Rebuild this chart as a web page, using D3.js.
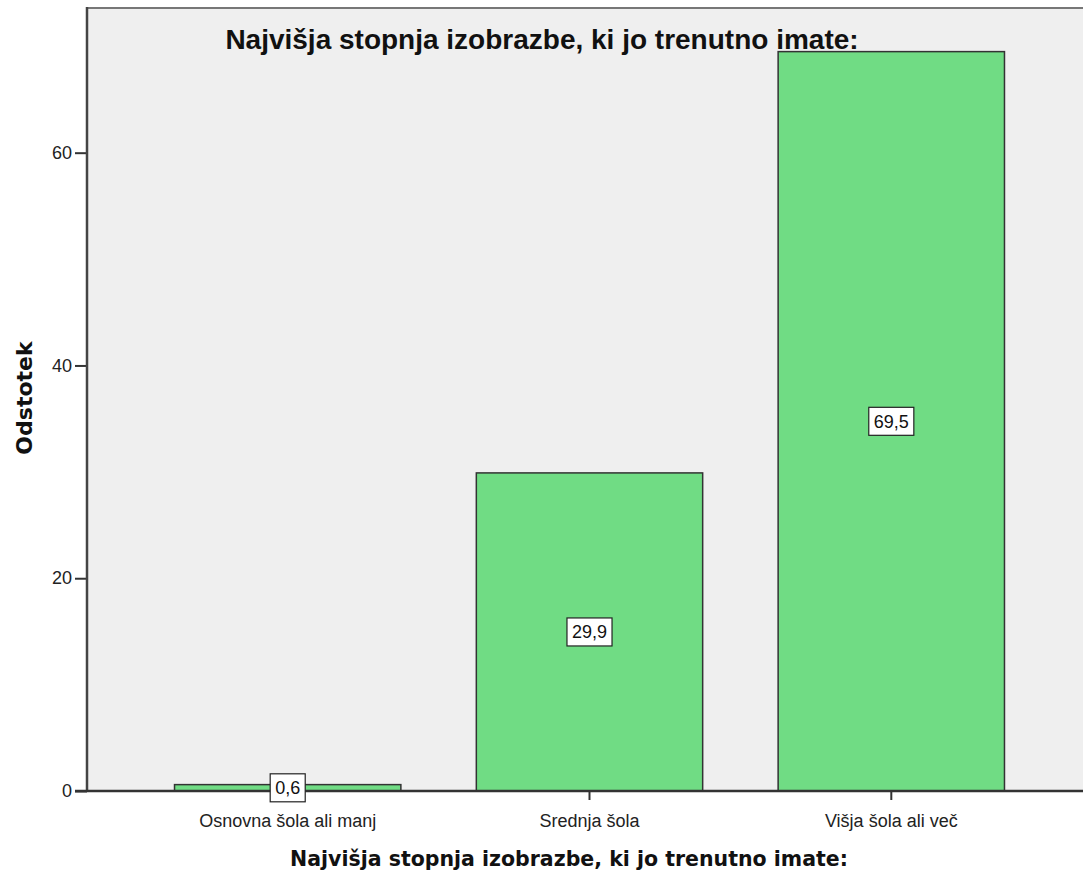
<!DOCTYPE html>
<meta charset="utf-8">
<style>
body {
  margin: 0;
  background: #fff;
}
.plotbg {
  fill: #efefef;
}
.bar {
  fill: #70dc84;
  stroke: #333;
  stroke-width: 1.5px;
}
.tick text {
  font-family: "Liberation Sans", Arial, sans-serif;
  font-size: 18px;
  fill: #222;
}
.vlabel rect {
  fill: #fff;
  stroke: #222;
  stroke-width: 1.2px;
}
.vlabel text {
  font-family: "Liberation Sans", Arial, sans-serif;
  font-size: 18px;
  fill: #111;
}
.title {
  font-family: "Liberation Sans", Arial, sans-serif;
  font-weight: bold;
  font-size: 28px;
  fill: #111;
}
.axtitle {
  font-family: "DejaVu Sans", sans-serif;
  font-weight: bold;
  fill: #111;
}
</style>
<body>
<script src="https://cdn.jsdelivr.net/npm/d3@7"></script>
<script>

var width = 1083,
    height = 874;

var categories = ["Osnovna šola ali manj", "Srednja šola", "Višja šola ali več"];
var values = [0.6, 29.9, 69.5];
var yTicks = [0, 20, 40, 60];
var chartTitle = "Najvišja stopnja izobrazbe, ki jo trenutno imate:";
var xTitle = "Najvišja stopnja izobrazbe, ki jo trenutno imate:";
var yTitle = "Odstotek";

var plotLeft = 87, plotTop = 8, plotBottom = 791, plotRight = 1092;

var x = d3.scaleBand()
    .domain(categories)
    .range([plotLeft, plotRight])
    .paddingInner(0.25)
    .paddingOuter(0.29);

var y = d3.scaleLinear()
    .domain([0, 73.6])
    .range([plotBottom, plotTop]);

var svg = d3.select("body").append("svg")
    .attr("width", width)
    .attr("height", height);

// plot background
svg.append("rect")
    .attr("class", "plotbg")
    .attr("x", plotLeft)
    .attr("y", plotTop)
    .attr("width", width - plotLeft)
    .attr("height", plotBottom - plotTop);

// top frame line
svg.append("line")
    .attr("x1", plotLeft).attr("x2", width)
    .attr("y1", plotTop).attr("y2", plotTop)
    .attr("stroke", "#777")
    .attr("stroke-width", 2);

svg.selectAll(".bar")
    .data(values)
  .enter().append("rect")
    .attr("class", "bar")
    .attr("x", function(d, i) { return x(categories[i]); })
    .attr("y", function(d) { return y(d); })
    .attr("width", x.bandwidth())
    .attr("height", function(d) { return y(0) - y(d); });

// axes
var yAxis = svg.append("g")
    .attr("transform", "translate(" + plotLeft + ",0)")
    .call(d3.axisLeft(y).tickValues(yTicks).tickSize(12).tickPadding(3));
yAxis.select(".domain").remove();
yAxis.selectAll(".tick line").attr("stroke", "#333").attr("stroke-width", 2);

svg.append("line")
    .attr("x1", plotLeft).attr("x2", plotLeft)
    .attr("y1", plotTop - 1).attr("y2", plotBottom)
    .attr("stroke", "#444")
    .attr("stroke-width", 2.5);

var xAxis = svg.append("g")
    .attr("transform", "translate(0," + plotBottom + ")")
    .call(d3.axisBottom(x).tickSize(9).tickPadding(8));
xAxis.select(".domain").remove();
xAxis.selectAll(".tick line").attr("stroke", "#333").attr("stroke-width", 2);
xAxis.selectAll(".tick text").attr("dy", "1.05em");

svg.append("line")
    .attr("x1", plotLeft - 12).attr("x2", width)
    .attr("y1", plotBottom).attr("y2", plotBottom)
    .attr("stroke", "#333")
    .attr("stroke-width", 2.5);

// value labels
var lab = svg.selectAll(".vlabel")
    .data(values)
  .enter().append("g")
    .attr("class", "vlabel")
    .attr("transform", function(d, i) {
      return "translate(" + (x(categories[i]) + x.bandwidth() / 2) + "," + y(d / 2) + ")";
    });

lab.append("text")
    .attr("text-anchor", "middle")
    .attr("dy", "0.36em")
    .text(function(d) { return d3.format(".1f")(d).replace(".", ","); });

lab.each(function() {
  var g = d3.select(this);
  var w = g.select("text").node().getComputedTextLength();
  g.insert("rect", "text")
      .attr("x", -w / 2 - 5)
      .attr("y", -14)
      .attr("width", w + 10)
      .attr("height", 28);
});

// titles
svg.append("text")
    .attr("class", "title")
    .attr("x", 542)
    .attr("y", 49)
    .attr("text-anchor", "middle")
    .text(chartTitle);

svg.append("text")
    .attr("class", "axtitle")
    .attr("x", 569)
    .attr("y", 866)
    .attr("text-anchor", "middle")
    .style("font-size", "20.5px")
    .text(xTitle);

svg.append("text")
    .attr("class", "axtitle")
    .attr("transform", "translate(32,398) rotate(-90)")
    .attr("text-anchor", "middle")
    .style("font-size", "22px")
    .text(yTitle);

</script>
